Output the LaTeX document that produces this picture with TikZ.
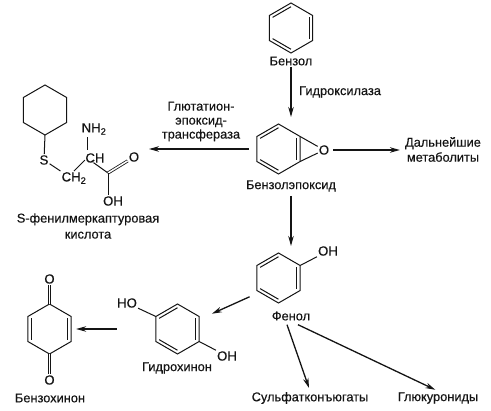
\documentclass[tikz,border=0pt]{standalone}
\usepackage{fontspec}
\setmainfont[FakeBold=0.4,AutoFakeBold=0.4]{Liberation Sans}
\usetikzlibrary{positioning,arrows.meta,calc,shapes.geometric}
\definecolor{ink}{HTML}{141414}
% inner line of a double bond in a ring
\newcommand{\ringbond}[3]{\draw[bond] ($(#1.corner #2)!0.15!(#1.center)$) -- ($(#1.corner #3)!0.15!(#1.center)$);}
\tikzset{
  ring/.style={draw=ink, regular polygon, regular polygon sides=6, regular polygon rotate=30,
               minimum size=50pt, inner sep=0pt, outer sep=0pt, line width=1pt},
  bond/.style={draw=ink, line width=1pt},
  dblbond/.style={draw=ink, line width=0.8pt, double, double distance=1.5pt},
  path arrow/.style={draw=ink, line width=1.3pt, -{Stealth[length=10pt,width=5.5pt]}},
  txt/.style={text=ink, inner sep=1pt, font=\fontsize{12.8}{14}\selectfont\bfseries, align=center},
  atom/.style={text=ink, inner sep=1pt, font=\fontsize{13.2}{14}\selectfont\bfseries}
}
\begin{document}
\begin{tikzpicture}[x=1pt,y=-1pt]
  \useasboundingbox (0,0) rectangle (491,411);

  % rings
  \node[ring] (benzol) at (291,28) {};
  \node[ring] (epox) at (278.5,149) {};
  \node[ring] (phenol) at (278.5,278) {};
  \node[ring] (hydro) at (177.5,329) {};
  \node[ring] (quinone) at (49.5,329) {};
  \node[ring] (cyclo) at (45,110) {};

  \ringbond{benzol}{1}{2} \ringbond{benzol}{3}{4} \ringbond{benzol}{5}{6}
  \ringbond{epox}{1}{2} \ringbond{epox}{3}{4} \ringbond{epox}{5}{6}
  \ringbond{phenol}{1}{2} \ringbond{phenol}{3}{4} \ringbond{phenol}{5}{6}
  \ringbond{hydro}{1}{2} \ringbond{hydro}{3}{4} \ringbond{hydro}{5}{6}
  \ringbond{quinone}{2}{3} \ringbond{quinone}{5}{6}

  % atoms
  \node[atom] (epoxO) at (324,150) {O};
  \node[atom] (phenolOH) at (328,251) {OH};
  \node[atom] (hydroHO) at (127,303) {HO};
  \node[atom] (hydroOH) at (227,356) {OH};
  \node[atom] (quinoneOa) at (49.5,279) {O};
  \node[atom] (quinoneOb) at (49.5,380) {O};
  \node[atom] (acidS) at (44,160) {S};
  \node[atom] (acidCHb) at (74,178) {CH\textsubscript{2}};
  \node[atom] (acidCH) at (95,158) {CH};
  \node[atom] (acidNH) at (94,129) {NH\textsubscript{2}};
  \node[atom] (acidO) at (134,157) {O};
  \node[atom] (acidOH) at (113,201) {OH};
  \coordinate (acidC) at (108,173);
  \coordinate (acidCa) at (87,158);

  \draw[bond] (epox.corner 6) -- (epoxO);
  \draw[bond] (epox.corner 5) -- (epoxO);
  \draw[bond] (phenol.corner 6) -- (phenolOH);
  \draw[bond] (hydro.corner 2) -- (hydroHO);
  \draw[bond] (hydro.corner 5) -- (hydroOH);
  \draw[dblbond] (quinone.corner 1) -- (quinoneOa);
  \draw[dblbond] (quinone.corner 4) -- (quinoneOb);
  \draw[bond] (cyclo.corner 4) -- (acidS);
  \draw[bond] (acidS) -- (acidCHb.north west);
  \draw[bond, shorten >=3pt] (acidCHb.north) -- (acidCa);
  \draw[bond, shorten <=8pt] (acidCa) -- (acidC);
  \draw[bond, shorten >=1pt, shorten <=8pt] (acidCa) -- (acidCa |- acidNH.south);
  \draw[dblbond] (acidC) -- (acidO);
  \draw[bond] (acidC) -- (acidC |- acidOH.north);

  % labels
  \node[txt] (lblBenzol) at (291,61) {Бензол};
  \node[txt] (lblEpox) at (291,186) {Бензолэпоксид};
  \node[txt] (lblPhenol) at (291,316) {Фенол};
  \node[txt] (lblHydro) at (177,368) {Гидрохинон};
  \node[txt] (lblQuinone) at (50,398) {Бензохинон};
  \node[txt] (lblSulf) at (310,398) {Сульфатконъюгаты};
  \node[txt] (lblGluc) at (438,398) {Глюкурониды};
  \node[txt] (lblMetab) at (443,149.5) {Дальнейшие\\[1pt]метаболиты};
  \node[txt] (lblAcid) at (88,226) {S-фенилмеркаптуровая\\[2pt]кислота};
  \node[txt] (lblGst) at (201,121.5) {Глютатион-\\эпоксид-\\трансфераза};
  \node[txt, anchor=west] (lblHydroxylase) at (298,92) {Гидроксилаза};

  % pathway arrows
  \coordinate (acidEnd) at (149,149);
  \draw[path arrow, shorten >=7pt] (lblBenzol.south) -- (lblBenzol.south |- epox.corner 1);
  \draw[path arrow, shorten <=8pt] (epox.west) -- (acidEnd);
  \draw[path arrow, shorten <=3pt, shorten >=4pt] (epoxO.east) -- (lblMetab.west |- epoxO.east);
  \draw[path arrow, shorten <=3pt, shorten >=7pt] (lblEpox.south) -- (lblEpox.south |- phenol.corner 1);
  \draw[path arrow, shorten <=8pt, shorten >=14pt] ([yshift=-3pt]phenol.corner 3) -- ([yshift=-3pt]hydro.corner 6);
  \draw[path arrow, shorten <=39pt, shorten >=5pt] (hydro.west) -- (quinone.east);
  \draw[path arrow, shorten >=3pt] ([xshift=-4pt,yshift=-3pt]lblPhenol.south) -- (lblSulf.north);
  \draw[path arrow, shorten >=3pt] ([xshift=7pt,yshift=-3pt]lblPhenol.south) -- (lblGluc.north);
\end{tikzpicture}
\end{document}
